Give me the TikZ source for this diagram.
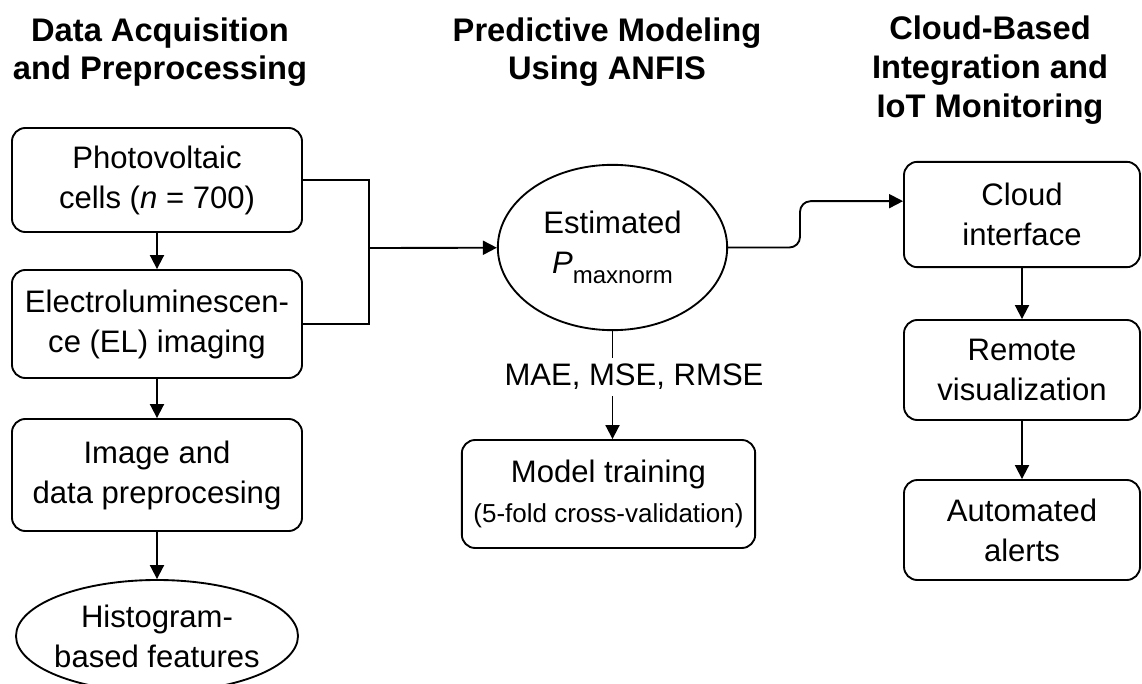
\documentclass[tikz,border=0pt]{standalone}
\usepackage{fontspec}
\setmainfont{Liberation Sans}
\usetikzlibrary{arrows.meta, shapes.geometric}

\newcommand{\boxfont}{\fontsize{23.3}{30}\selectfont}
\newcommand{\colfont}{\bfseries\fontsize{24.5}{29}\selectfont}
\newcommand{\smallerfont}{\fontsize{19.5}{24}\selectfont}
\newcommand{\indexfont}{\fontsize{18}{20}\selectfont}

\tikzset{
    box/.style={draw, rounded corners=10pt, align=center, inner sep=2pt,
        minimum width=217.5pt, font=\boxfont},
    oval/.style={draw, ellipse, inner sep=0pt, align=center, font=\boxfont},
    coltitle/.style={align=center, font=\colfont},
    lbl/.style={align=center, inner sep=4pt, font=\boxfont},
    arr/.style={-{Triangle[length=10.5pt, width=10.5pt]}}
}

\begin{document}
\begin{tikzpicture}[x=0.75pt, y=-0.75pt, line width=1.4pt]
    \useasboundingbox (0,0) rectangle (1142,684);
    % Column titles
    \node[coltitle] (t1) at (160,52) {Data Acquisition\\and Preprocessing};
    \node[coltitle] (t2) at (607,52) {Predictive Modeling\\Using ANFIS};
    \node[coltitle] (t3) at (990,70) {Cloud-Based\\Integration and\\IoT Monitoring};

    % Data acquisition column
    \node[box, minimum height=78pt] (pv) at (157,180) {Photovoltaic\\cells (\textit{n} = 700)};
    \node[box, minimum height=81pt] (el) at (157,324) {Electroluminescen-\\ce (EL) imaging};
    \node[box, minimum height=84pt] (prep) at (157,475) {Image and\\data preprocesing};
    \node[oval, minimum width=211.5pt, minimum height=84pt] (hist) at (157,636) {};
    \node[lbl] (histtxt) at (hist.center) {Histogram-\\based features};
    \draw[arr] (pv) -- (el);
    \draw[arr] (el) -- (prep);
    \draw[arr] (prep) -- (hist);

    % ANFIS model
    \coordinate (jn) at (369,248);
    \draw (pv.east) -| (jn) |- (el.east);
    \node[oval, minimum width=172pt, minimum height=124pt] (est) at (612.5,247.5)
        {Estimated\\\textit{P}\raisebox{-7pt}{\indexfont maxnorm}};
    \draw[arr] (jn) -- (est);
    \node[lbl] (err) at (634,377) {MAE, MSE, RMSE};
    \node[box, minimum width=220pt, minimum height=81pt] (train) at (608.5,494)
        {Model training\\{\smallerfont (5-fold cross-validation)}};
    \draw (est.south) -- (est.south |- err.north);
    \draw[arr] (est.south |- err.south) -- (est.south |- train.north);

    % Cloud and IoT column
    \node[box, minimum width=177pt, minimum height=79pt] (cloud) at (1022,214.5) {Cloud\\interface};
    \node[box, minimum width=177pt, minimum height=75pt] (remote) at (1022,370) {Remote\\visualization};
    \node[box, minimum width=177pt, minimum height=75pt] (alert) at (1022,530) {Automated\\alerts};
    \draw[arr] (cloud) -- (remote);
    \draw[arr] (remote) -- (alert);
    \coordinate (jog) at (800,224);
    \draw[arr, rounded corners=8pt] (est.east) -| (jog) |- ([yshift=10pt]cloud.west);
\end{tikzpicture}
\end{document}
